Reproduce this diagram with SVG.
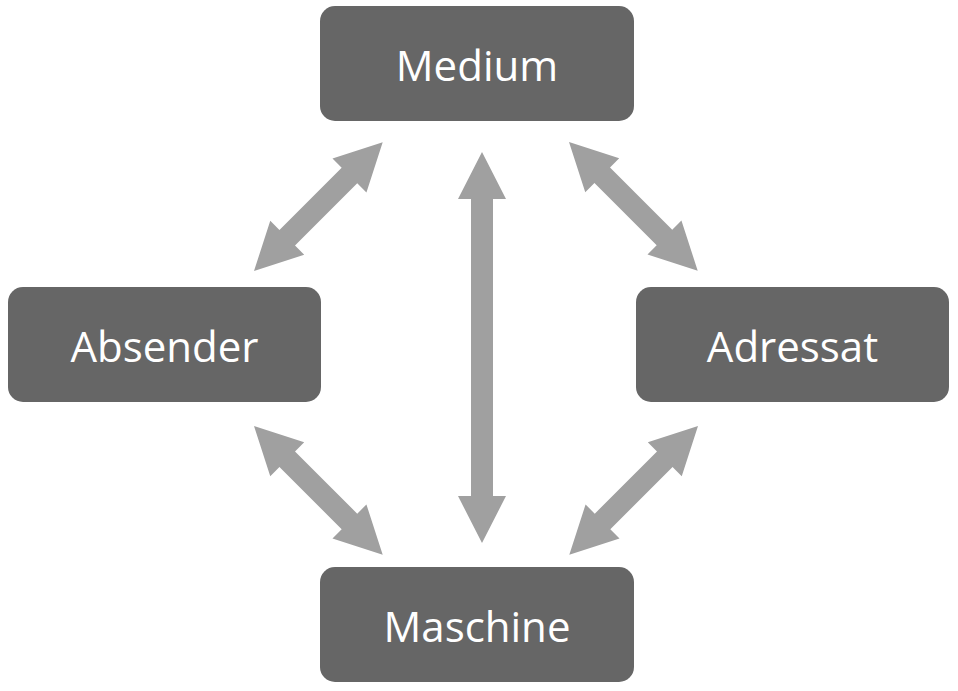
<svg xmlns="http://www.w3.org/2000/svg" width="958" height="691" viewBox="0 0 958 691">
<style>
.box{fill:#666666}
.lbl{fill:#ffffff;font-family:"Open Sans","Liberation Sans",sans-serif;font-size:42px;text-anchor:middle}
.arr{fill:#a0a0a0}
</style>
<defs>
<polygon id="ad" points="0,0 47,-24 47,-11 135,-11 135,-24 182,0 135,24 135,11 47,11 47,24"/>
<polygon id="av" points="0,0 47,-24 47,-11 344,-11 344,-24 391,0 344,24 344,11 47,11 47,24"/>
</defs>
<rect width="958" height="691" fill="#ffffff"/>
<g id="connectors" class="arr">
<use href="#ad" transform="translate(254,271) rotate(-45)"/>
<use href="#ad" transform="translate(569,142) rotate(45)"/>
<use href="#ad" transform="translate(254,426) rotate(45)"/>
<use href="#ad" transform="translate(698,426) rotate(135)"/>
<use href="#av" transform="translate(482,152) rotate(90)"/>
</g>
<g id="medium"><rect class="box" x="320" y="6" width="314" height="115" rx="15"/><text class="lbl" x="477" y="81">Medium</text></g>
<g id="absender"><rect class="box" x="8" y="287" width="313" height="115" rx="15"/><text class="lbl" x="164.5" y="362">Absender</text></g>
<g id="adressat"><rect class="box" x="636" y="287" width="313" height="115" rx="15"/><text class="lbl" x="792.5" y="362">Adressat</text></g>
<g id="maschine"><rect class="box" x="320" y="567" width="314" height="115" rx="15"/><text class="lbl" x="477" y="642">Maschine</text></g>
</svg>
